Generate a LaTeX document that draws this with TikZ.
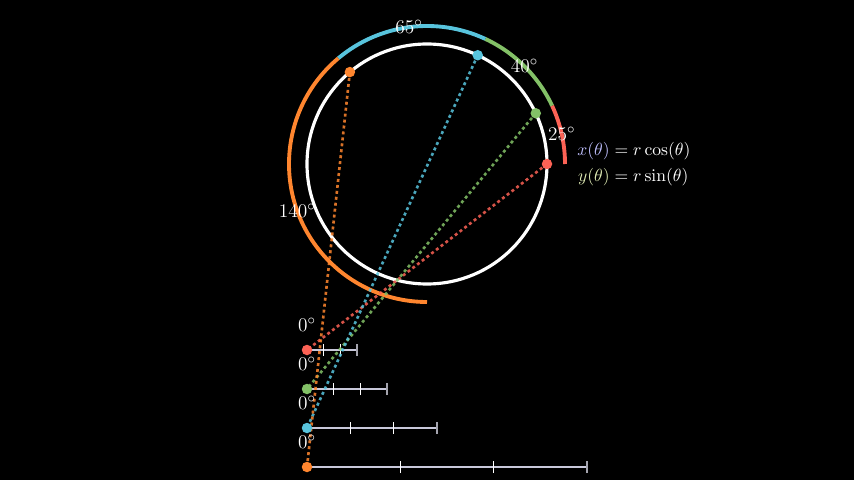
\documentclass[tikz,border=0pt]{standalone}
\usepackage{amsmath}
\usepackage{amssymb}
\usepackage{tikz}
\usetikzlibrary{arrows, shapes, positioning}
\definecolor{mred}{HTML}{FC6255}
\definecolor{mgreen}{HTML}{83C167}
\definecolor{mblue}{HTML}{58C4DD}
\definecolor{morange}{HTML}{FF862F}
\definecolor{xcol}{HTML}{BCBCFA}
\definecolor{ycol}{HTML}{DDE9B2}
\definecolor{lncol}{HTML}{C8C8DA}
\definecolor{endcol}{HTML}{A4A4AE}

\begin{document}
\begin{tikzpicture}[x=0.02cm, y=0.02cm,
  dot/.style={circle, inner sep=0, minimum size=0.21cm},
  lbl/.style={text=white, inner sep=0, font=\fontsize{11}{13}\selectfont},
  ring/.style={draw=white, line width=1.8pt},
  band/.style={line width=2.2pt},
  ray/.style={line width=1.5pt, dash pattern=on 1.7pt off 1.7pt, draw opacity=0.85},
  nline/.style={draw=lncol, line width=1.1pt},
  tickmark/.style={draw=white, line width=0.9pt},
  endmark/.style={draw=endcol, line width=1pt}]
\fill [black] (0,0) rectangle (854,480);
\coordinate (C) at (427,316);
\draw [ring] (C) circle[radius=120];
% outer bands with their angles
\draw [band, mred] ([shift={(0:138)}]C) arc[start angle=0, end angle=25, radius=138];
\draw [band, mgreen] ([shift={(25:138)}]C) arc[start angle=25, end angle=65, radius=138];
\draw [band, mblue] ([shift={(65:138)}]C) arc[start angle=65, end angle=130, radius=138];
\draw [band, morange] ([shift={(130:138)}]C) arc[start angle=130, end angle=270, radius=138];
\node[lbl] (a25) at ([shift={(12.5:138)}]C) {25$^\circ$};
\node[lbl] (a40) at ([shift={(45:138)}]C) {40$^\circ$};
\node[lbl] (a65) at ([shift={(97.5:138)}]C) {65$^\circ$};
\node[lbl] (a140) at ([shift={(200:138)}]C) {140$^\circ$};
\node[anchor=west, inner sep=0, text=white] (eq) at (577,316)
  {$\begin{aligned} \textcolor{xcol}{x(\theta)} &= r\cos(\theta)\\ \textcolor{ycol}{y(\theta)} &= r\sin(\theta) \end{aligned}$};
\coordinate (pr) at ([shift={(0:120)}]C);
\coordinate (pg) at ([shift={(25:120)}]C);
\coordinate (pb) at ([shift={(65:120)}]C);
\coordinate (po) at ([shift={(130:120)}]C);
% number lines, length 2px per degree
\foreach \n/\y/\l in {r/130/50, g/91/80, b/52/130, o/13/280} {
  \coordinate (l\n) at (307,\y);
  \draw [nline] (l\n) -- ++(\l,0);
  \draw [tickmark] (307+\l/3,\y-6) -- ++(0,12);
  \draw [tickmark] (307+2*\l/3,\y-6) -- ++(0,12);
  \draw [endmark] (307+\l,\y-6) -- ++(0,12);
}
\draw [ray, mred] (pr) -- (lr);
\draw [ray, mgreen] (pg) -- (lg);
\draw [ray, mblue] (pb) -- (lb);
\draw [ray, morange] (po) -- (lo);
\foreach \n/\c in {r/mred, g/mgreen, b/mblue, o/morange} {
  \node[dot, fill=\c] (d\n) at (p\n) {};
  \node[dot, fill=\c] (e\n) at (l\n) {};
  \node[lbl, above=0.24cm of e\n] (z\n) {0$^\circ$};
}
\end{tikzpicture}
\end{document}
